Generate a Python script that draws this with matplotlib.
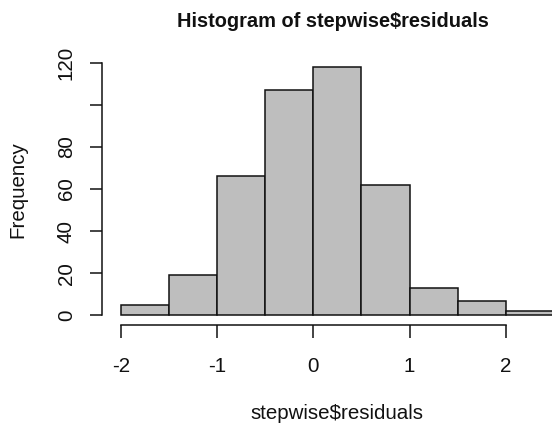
import matplotlib
matplotlib.use("Agg")
import matplotlib.pyplot as plt
import numpy as np

# Histogram bins of the stepwise model residuals
bin_edges = [-2.0, -1.5, -1.0, -0.5, 0.0, 0.5, 1.0, 1.5, 2.0, 2.5]
counts = [5, 19, 66, 107, 118, 62, 13, 7, 2]

x_ticks = [-2, -1, 0, 1, 2]
x_tick_labels = ["-2", "-1", "0", "1", "2"]
y_ticks = [0, 20, 40, 60, 80, 100, 120]
y_tick_labels = ["0", "20", "40", "60", "80", "", "120"]

title = "Histogram of stepwise$residuals"
x_label = "stepwise$residuals"
y_label = "Frequency"

plt.rcParams["font.family"] = ["Liberation Sans", "DejaVu Sans"]

W, H = 552, 424
fig = plt.figure(figsize=(W / 100, H / 100), dpi=100)
fig.patch.set_facecolor("white")

# axes frame in pixel terms
left_px, right_px = 102.3, 552.0
bottom_px, top_px = 325.3, 50.0
ax = fig.add_axes([left_px / W, 1 - bottom_px / H,
                   (right_px - left_px) / W, (bottom_px - top_px) / H])

x_scale = 96.3   # px per unit
y_scale = 2.105  # px per count
x0_px, y0_px = 120.7, 315.3
ax.set_xlim(-2 - (x0_px - left_px) / x_scale, -2 + (right_px - x0_px) / x_scale)
ax.set_ylim(-(bottom_px - y0_px) / y_scale, (y0_px - top_px) / y_scale)

widths = np.diff(bin_edges)
ax.bar(bin_edges[:-1], counts, width=widths, align="edge",
       color="#BEBEBE", edgecolor="#111111", linewidth=1.1)

for s in ["top", "right"]:
    ax.spines[s].set_visible(False)
ax.spines["left"].set_bounds(0, 120)
ax.spines["bottom"].set_bounds(-2, 2)
for s in ["left", "bottom"]:
    ax.spines[s].set_linewidth(1.1)
    ax.spines[s].set_color("#111111")

fs = 14.8
ax.set_xticks(x_ticks)
ax.set_xticklabels(x_tick_labels, fontsize=fs)
ax.set_yticks(y_ticks)
ax.set_yticklabels(y_tick_labels, fontsize=fs, rotation=90, va="center")
ax.tick_params(axis="both", direction="out", length=9, width=1.1,
               color="#111111", labelcolor="#111111")
ax.tick_params(axis="x", pad=14)
ax.tick_params(axis="y", pad=10)

fig.text(332.5 / W, 1 - 26.7 / H, title, ha="center", va="baseline",
         fontsize=14.4, fontweight="bold", color="#111111")
fig.text(337 / W, 1 - 419 / H, x_label, ha="center", va="baseline",
         fontsize=fs, color="#111111")
fig.text(17.5 / W, 1 - 190 / H, y_label, ha="center", va="center",
         rotation=90, fontsize=fs, color="#111111")

fig.savefig("out.png", dpi=100)
